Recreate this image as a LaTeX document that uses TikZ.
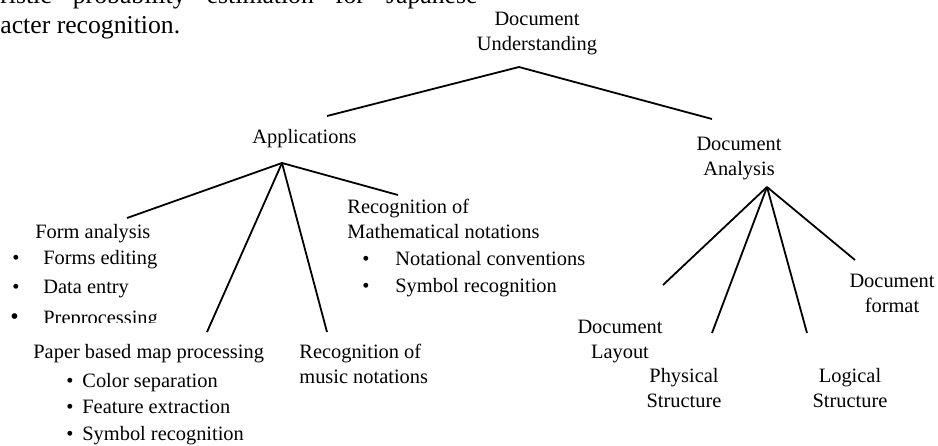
\documentclass[tikz,border=0pt]{standalone}
\usepackage{fontspec}
\setmainfont{Liberation Serif}
\usetikzlibrary{positioning}

\tikzset{
  lbl/.style={align=center, inner sep=0pt, font=\fontsize{10.2}{12.5}\selectfont},
  txt/.style={anchor=base west, inner sep=0pt, font=\fontsize{10.2}{12.5}\selectfont},
  para/.style={anchor=base west, inner sep=0pt, font=\fontsize{12.85}{12.5}\selectfont},
  branch/.style={line width=0.9pt},
}
\newcommand{\bitem}[2]{\makebox[#1][l]{\textbullet}#2}

\begin{document}
\begin{tikzpicture}[x=0.5pt, y=-0.5pt]
  \useasboundingbox (0,0) rectangle (938,445);
  \clip (0,0) rectangle (938,445);

  % text of the page above the figure
  \node[para] (parA) at (0,3) {\makebox[238.5pt][s]{ristic probability estimation for Japanese}};
  \node[para] (parB) at (0,33) {acter recognition.};

  % root (base = last line)
  \node[lbl, anchor=base] (root) at (537,50) {Document\\Understanding};
  \coordinate (rootTip) at (519,67);

  % level one
  \node[txt] (apps) at (252,143) {Applications};
  \node[lbl, anchor=base] (anal) at (739,175) {Document\\Analysis};
  \coordinate (appsIn) at (327,116);
  \coordinate (analIn) at (712,119);
  \coordinate (appsTip) at (282,163);
  \coordinate (analTip) at (767,187);

  \draw[branch] (rootTip) -- (appsIn);
  \draw[branch] (rootTip) -- (analIn);

  % applications
  \node[txt] (form) at (35,238) {Form analysis};
  \node[txt] (formA) at (12,264) {\bitem{15.5pt}{Forms editing}};
  \node[txt] (formB) at (12,293) {\bitem{15.5pt}{Data entry}};
  \begin{scope}
    \clip (0,300) rectangle (245,322);
    \node[txt] (formC) at (10,324) {\makebox[16.5pt][l]{\large\textbullet}Preprocessing};
  \end{scope}

  \node[txt] (map) at (33,358) {Paper based map processing};
  \node[txt] (mapA) at (66,387) {\bitem{8pt}{Color separation}};
  \node[txt] (mapB) at (66,413) {\bitem{8pt}{Feature extraction}};
  \node[txt] (mapC) at (66,440) {\bitem{8pt}{Symbol recognition}};

  \node[txt, align=left] (music) at (299,383) {Recognition of\\music notations};

  \node[txt, align=left] (math) at (347,238) {Recognition of\\Mathematical notations};
  \node[txt] (mathA) at (362,265) {\bitem{16.5pt}{Notational conventions}};
  \node[txt] (mathB) at (362,292) {\bitem{16.5pt}{Symbol recognition}};

  \coordinate (formIn) at (127,218);
  \coordinate (mapIn) at (207,332);
  \coordinate (musicIn) at (327,332);
  \coordinate (mathIn) at (398,195);

  \draw[branch] (appsTip) -- (formIn);
  \draw[branch] (appsTip) -- (mapIn);
  \draw[branch] (appsTip) -- (musicIn);
  \draw[branch] (appsTip) -- (mathIn);

  % document analysis
  \node[lbl, anchor=base] (layout) at (620,358) {Document\\Layout};
  \node[lbl, anchor=base] (phys) at (684,407) {Physical\\Structure};
  \node[lbl, anchor=base] (logic) at (850,407) {Logical\\Structure};
  \node[lbl, anchor=base] (fmt) at (892,312) {Document\\format};

  \coordinate (layoutIn) at (663,285);
  \coordinate (physIn) at (712,333);
  \coordinate (logicIn) at (807,333);
  \coordinate (fmtIn) at (855,260);

  \draw[branch] (analTip) -- (layoutIn);
  \draw[branch] (analTip) -- (physIn);
  \draw[branch] (analTip) -- (logicIn);
  \draw[branch] (analTip) -- (fmtIn);
\end{tikzpicture}
\end{document}
